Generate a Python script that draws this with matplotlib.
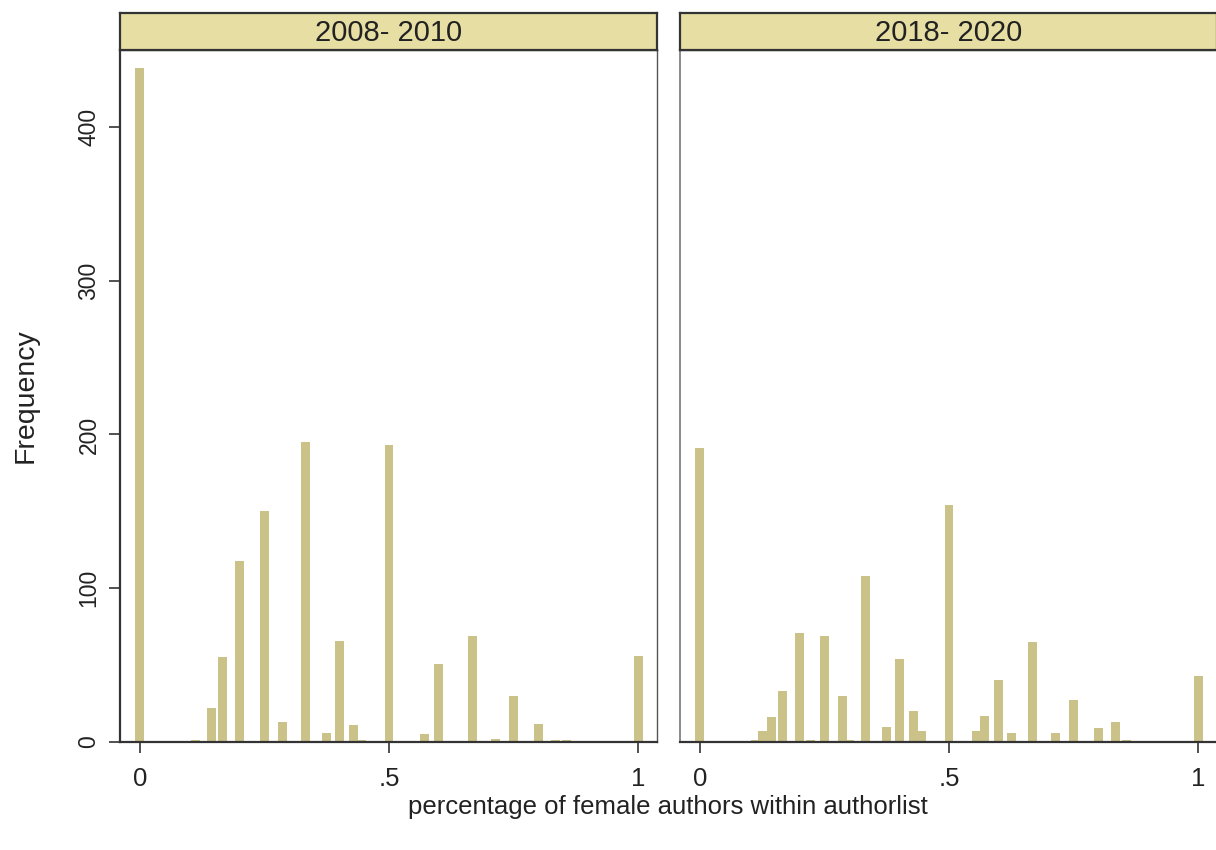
import numpy as np
import matplotlib.pyplot as plt

plt.rcParams['font.family'] = ['Liberation Sans', 'DejaVu Sans']

# share of female authors (bin position) and number of papers per bin
share_2008 = [0, 1/9, 1/7, 1/6, 1/5, 1/4, 2/7, 1/3, 3/8, 2/5, 3/7, 4/9, 1/2,
              4/7, 3/5, 2/3, 5/7, 3/4, 4/5, 5/6, 6/7, 1]
freq_2008 = [438, 1, 22, 55, 118, 150, 13, 195, 6, 66, 11, 1, 193,
             5, 51, 69, 2, 30, 12, 1, 1, 56]

share_2018 = [0, 1/9, 1/8, 1/7, 1/6, 1/5, 2/9, 1/4, 2/7, 3/10, 1/3, 3/8, 2/5,
              3/7, 4/9, 1/2, 5/9, 4/7, 3/5, 5/8, 2/3, 5/7, 3/4, 4/5, 5/6, 6/7, 1]
freq_2018 = [191, 1, 7, 16, 33, 71, 1, 69, 30, 1, 108, 10, 54,
             20, 7, 154, 7, 17, 40, 6, 65, 6, 27, 9, 13, 1, 43]

panel_titles = ['2008- 2010', '2018- 2020']
x_ticks = [0, 0.5, 1]
x_ticklabels = ['0', '.5', '1']
y_ticks = [0, 100, 200, 300, 400]

bar_color = '#cac288'
strip_color = '#e6dea3'
W, H = 1216, 850

fig = plt.figure(figsize=(W / 100, H / 100), dpi=100)
fig.patch.set_facecolor('white')

panels = [(120, share_2008, freq_2008), (680, share_2018, freq_2018)]
ax_w = 537 / W
ax_b = 1 - 742 / H
ax_h = (742 - 50) / H
strip_h = 37 / H

for i, (left_px, share, freq) in enumerate(panels):
    ax = fig.add_axes([left_px / W, ax_b, ax_w, ax_h])
    ax.bar(share, freq, width=0.018, color=bar_color, edgecolor='none')
    ax.set_xlim(-0.04, 1.038)
    ax.set_ylim(0, 450)
    ax.set_xticks(x_ticks)
    ax.set_xticklabels(x_ticklabels)
    ax.tick_params(axis='x', length=8, width=1.2, color='#333333',
                   labelsize=18.5, pad=10, labelcolor='#222222')
    for side in ['top', 'right']:
        ax.spines[side].set_color('#555555')
        ax.spines[side].set_linewidth(1.0)
    ax.spines['bottom'].set_color('#333333')
    ax.spines['bottom'].set_linewidth(1.6)
    ax.spines['left'].set_color('#333333' if i == 0 else '#777777')
    ax.spines['left'].set_linewidth(1.6 if i == 0 else 1.2)
    if i == 0:
        ax.set_yticks(y_ticks)
        ax.set_yticklabels([str(v) for v in y_ticks], rotation=90, va='center')
        ax.tick_params(axis='y', length=8, width=1.2, color='#333333',
                       labelsize=16.5, pad=6, labelcolor='#222222')
        ax.set_ylabel('Frequency', fontsize=20.5, labelpad=28, color='#222222')
    else:
        ax.set_yticks([])

    # strip holding the period label
    sax = fig.add_axes([left_px / W, ax_b + ax_h, ax_w, strip_h])
    sax.set_facecolor(strip_color)
    sax.set_xticks([])
    sax.set_yticks([])
    for sp in sax.spines.values():
        sp.set_color('#333333')
        sp.set_linewidth(1.6)
    sax.text(0.5, 0.45, panel_titles[i], ha='center', va='center',
             fontsize=21, color='#222222', transform=sax.transAxes)

fig.text(668 / W, 1 - 807 / H, 'percentage of female authors within authorlist',
         ha='center', va='center', fontsize=18.5, color='#222222')

fig.savefig('out.png', dpi=100)
